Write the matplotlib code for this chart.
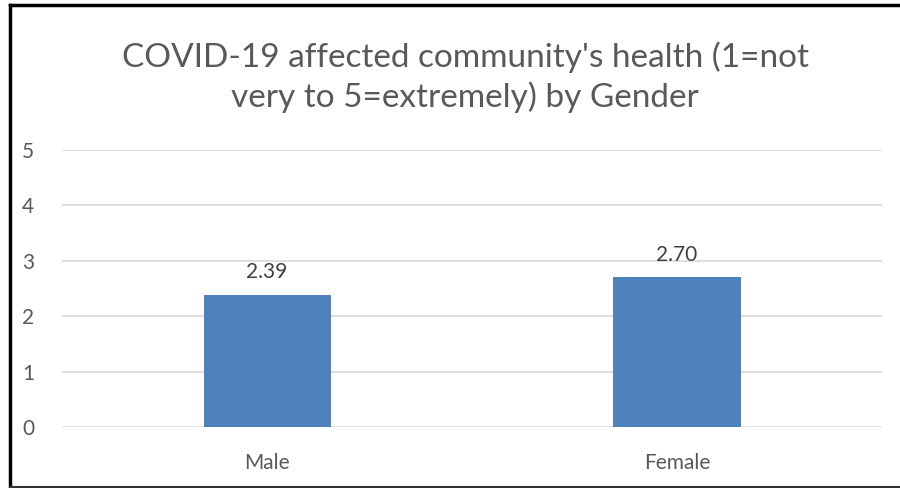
import matplotlib.pyplot as plt
from matplotlib.lines import Line2D

categories = ['Male', 'Female']
values = [2.39, 2.70]
labels = ['2.39', '2.70']
yticks = [0, 1, 2, 3, 4, 5]

plt.rcParams['font.family'] = ['Lato', 'DejaVu Sans']

fig = plt.figure(figsize=(9, 4.88), dpi=100)
ax = fig.add_axes([0.069, 0.125, 0.911, 0.5676])

x = range(len(categories))
bars = ax.bar(x, values, width=0.31, color='#4F81BD', zorder=3)
for b, t in zip(bars, labels):
    ax.annotate(t, (b.get_x() + b.get_width() / 2, b.get_height()),
                xytext=(0, 9), textcoords='offset points',
                ha='center', va='bottom', fontsize=15, color='#404040')

ax.set_xlim(-0.5, 1.5)
ax.set_ylim(0, 5)
ax.set_yticks(yticks)
ax.set_xticks(list(x))
ax.set_xticklabels(categories)
ax.grid(axis='y', color='#d9d9d9', linewidth=1.2, zorder=0)
for s in ax.spines.values():
    s.set_visible(False)
ax.tick_params(axis='both', length=0, labelsize=15, labelcolor='#595959')
ax.tick_params(axis='x', pad=19)
ax.tick_params(axis='y', pad=20)

fig.text(0.517, 0.842, "COVID-19 affected community's health (1=not\nvery to 5=extremely) by Gender",
         ha='center', va='center', fontsize=24, color='#595959', linespacing=1.35)

# black frame around the chart
fig.add_artist(Line2D([0.011, 1.0], [0.99, 0.99], color='black', lw=2.5))
fig.add_artist(Line2D([0.011, 0.011], [0.0, 0.99], color='black', lw=2.5))
fig.add_artist(Line2D([0.011, 1.0], [0.002, 0.002], color='#333333', lw=1.5))

fig.savefig('out.png', dpi=100)
